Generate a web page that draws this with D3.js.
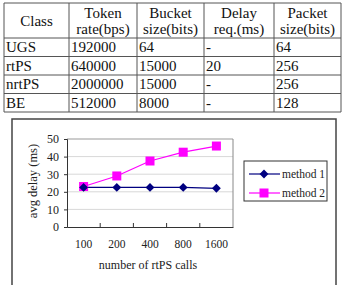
<!DOCTYPE html>
<html>
<head>
<meta charset="utf-8">
<script src="https://cdn.jsdelivr.net/npm/d3@7"></script>
<style>
  body { margin: 0; background: #fff; }
  svg { display: block; }
</style>
</head>
<body>
<svg id="drawing_region"></svg>
<script>
const FONT = "'Liberation Serif'";

// table data
const headers = [["Class"], ["Token", "rate(bps)"], ["Bucket", "size(bits)"], ["Delay", "req.(ms)"], ["Packet", "size(bits)"]];
const classes = ["UGS", "rtPS", "nrtPS", "BE"];
const tokenRate = ["192000", "640000", "2000000", "512000"];
const bucketSize = ["64", "15000", "15000", "8000"];
const delayReq = ["-", "20", "-", "-"];
const packetSize = ["64", "256", "256", "128"];

// chart data
const calls = ["100", "200", "400", "800", "1600"];
const method1 = [22.5, 22.5, 22.5, 22.5, 22];
const method2 = [23, 29, 37.5, 42.5, 46];
const yTicks = [0, 10, 20, 30, 40, 50];

const W = 344, H = 285;
const svg = d3.select('#drawing_region').attr('width', W).attr('height', H);

// ---- table ----
const colX = [4, 69, 137, 204, 274, 341];
const rowY = [3, 38, 56.5, 75, 93.5, 112];
const rows = classes.map((c, i) => [c, tokenRate[i], bucketSize[i], delayReq[i], packetSize[i]]);

const tbl = svg.append('g');
colX.forEach(x => {
    tbl.append('line').attr('x1', x).attr('x2', x).attr('y1', rowY[0]).attr('y2', rowY[rowY.length - 1])
        .attr('stroke', '#555').attr('stroke-width', 1);
});
rowY.forEach(y => {
    tbl.append('line').attr('x1', colX[0]).attr('x2', colX[colX.length - 1]).attr('y1', y).attr('y2', y)
        .attr('stroke', '#555').attr('stroke-width', 1);
});

headers.forEach((h, i) => {
    const cx = (colX[i] + colX[i + 1]) / 2;
    const t = tbl.append('text').attr('x', cx).attr('text-anchor', 'middle')
        .style('font-family', FONT).attr('font-size', 15).attr('fill', '#111');
    if (h.length == 1) {
        t.attr('y', (rowY[0] + rowY[1]) / 2 + 5).text(h[0]);
    } else {
        t.append('tspan').attr('x', cx).attr('y', 18).text(h[0]);
        t.append('tspan').attr('x', cx).attr('y', 34).text(h[1]);
    }
});

rows.forEach((r, j) => {
    r.forEach((v, i) => {
        tbl.append('text')
            .attr('x', colX[i] + 2)
            .attr('y', (rowY[j + 1] + rowY[j + 2]) / 2 + 5)
            .style('font-family', FONT).attr('font-size', 15).attr('fill', '#111')
            .text(v);
    });
});

// ---- chart ----
svg.append('rect').attr('x', 12).attr('y', 119).attr('width', 324).attr('height', 180)
    .attr('fill', 'none').attr('stroke', '#444').attr('stroke-width', 1.5);

const plot = {left: 67, right: 233, top: 139, bottom: 227};

const x = d3.scaleBand().domain(calls).range([plot.left, plot.right]);
const y = d3.scaleLinear().domain([0, 50]).range([plot.bottom, plot.top]);

const chart = svg.append('g');

// gridlines
chart.selectAll('.grid').data(yTicks.filter(d => d > 0)).enter()
    .append('line')
    .attr('x1', plot.left).attr('x2', plot.right)
    .attr('y1', d => y(d)).attr('y2', d => y(d))
    .attr('stroke', d => d == 50 ? '#999' : '#d8d8d8').attr('stroke-width', 1);

// right border of plot
chart.append('line').attr('x1', plot.right).attr('x2', plot.right)
    .attr('y1', plot.top).attr('y2', plot.bottom).attr('stroke', '#888');

// y axis
const yAxis = chart.append('g')
    .attr('transform', `translate(${plot.left},0)`)
    .call(d3.axisLeft(y).tickValues(yTicks).tickSize(3).tickPadding(5));
yAxis.select('.domain').attr('stroke', '#333');
yAxis.selectAll('.tick line').attr('stroke', '#333');
yAxis.selectAll('text').style('font-family', FONT).attr('font-size', 12).attr('fill', '#222');

// x axis
const xAxis = chart.append('g')
    .attr('transform', `translate(0,${plot.bottom})`)
    .call(d3.axisBottom(x).tickSize(0).tickPadding(13));
xAxis.select('.domain').attr('stroke', '#333').attr('stroke-width', 1.2);
xAxis.selectAll('text').style('font-family', FONT).attr('font-size', 11.5).attr('fill', '#222');

// inward ticks between categories
chart.selectAll('.xtick').data(calls.slice(1)).enter()
    .append('line')
    .attr('x1', d => x(d)).attr('x2', d => x(d))
    .attr('y1', plot.bottom).attr('y2', plot.bottom - 4)
    .attr('stroke', '#333');

// axis titles
svg.append('text').attr('x', (plot.left + plot.right) / 2 - 2).attr('y', 269)
    .attr('text-anchor', 'middle').style('font-family', FONT).attr('font-size', 12).attr('fill', '#222')
    .text('number of rtPS calls');
svg.append('text')
    .attr('transform', `translate(37,${(plot.top + plot.bottom) / 2 - 2}) rotate(-90)`)
    .attr('text-anchor', 'middle').style('font-family', FONT).attr('font-size', 12.5).attr('fill', '#222')
    .text('avg delay (ms)');

// lines
const line = d3.line().x((d, i) => x(calls[i]) + x.bandwidth() / 2).y(d => y(d));

chart.append('path').datum(method2).attr('d', line)
    .attr('fill', 'none').attr('stroke', '#ff00ff').attr('stroke-width', 1.2);
chart.append('path').datum(method1).attr('d', line)
    .attr('fill', 'none').attr('stroke', '#000080').attr('stroke-width', 1.2);

chart.selectAll('.m2').data(method2).enter()
    .append('rect')
    .attr('x', (d, i) => x(calls[i]) + x.bandwidth() / 2 - 4.5)
    .attr('y', d => y(d) - 4.5)
    .attr('width', 9).attr('height', 9)
    .attr('fill', '#ff00ff');

const diamond = d3.symbol().type(d3.symbolDiamond2).size(50);
chart.selectAll('.m1').data(method1).enter()
    .append('path')
    .attr('d', diamond)
    .attr('transform', (d, i) => `translate(${x(calls[i]) + x.bandwidth() / 2},${y(d)})`)
    .attr('fill', '#000080');

// legend
const legend = svg.append('g');
legend.append('rect').attr('x', 244).attr('y', 161).attr('width', 83).attr('height', 40)
    .attr('fill', '#fff').attr('stroke', '#333').attr('stroke-width', 1);

const legendItems = [
    {name: 'method 1', color: '#000080', y: 174, mark: 'diamond'},
    {name: 'method 2', color: '#ff00ff', y: 193, mark: 'square'}
];
legendItems.forEach(it => {
    legend.append('line').attr('x1', 249).attr('x2', 280).attr('y1', it.y).attr('y2', it.y)
        .attr('stroke', it.color).attr('stroke-width', 1.2);
    if (it.mark == 'diamond') {
        legend.append('path').attr('d', diamond).attr('transform', `translate(264,${it.y})`).attr('fill', it.color);
    } else {
        legend.append('rect').attr('x', 259.5).attr('y', it.y - 4.5).attr('width', 9).attr('height', 9).attr('fill', it.color);
    }
    legend.append('text').attr('x', 282).attr('y', it.y + 4).style('font-family', FONT).attr('font-size', 11.5).attr('fill', '#222').text(it.name);
});
</script>
</body>
</html>
